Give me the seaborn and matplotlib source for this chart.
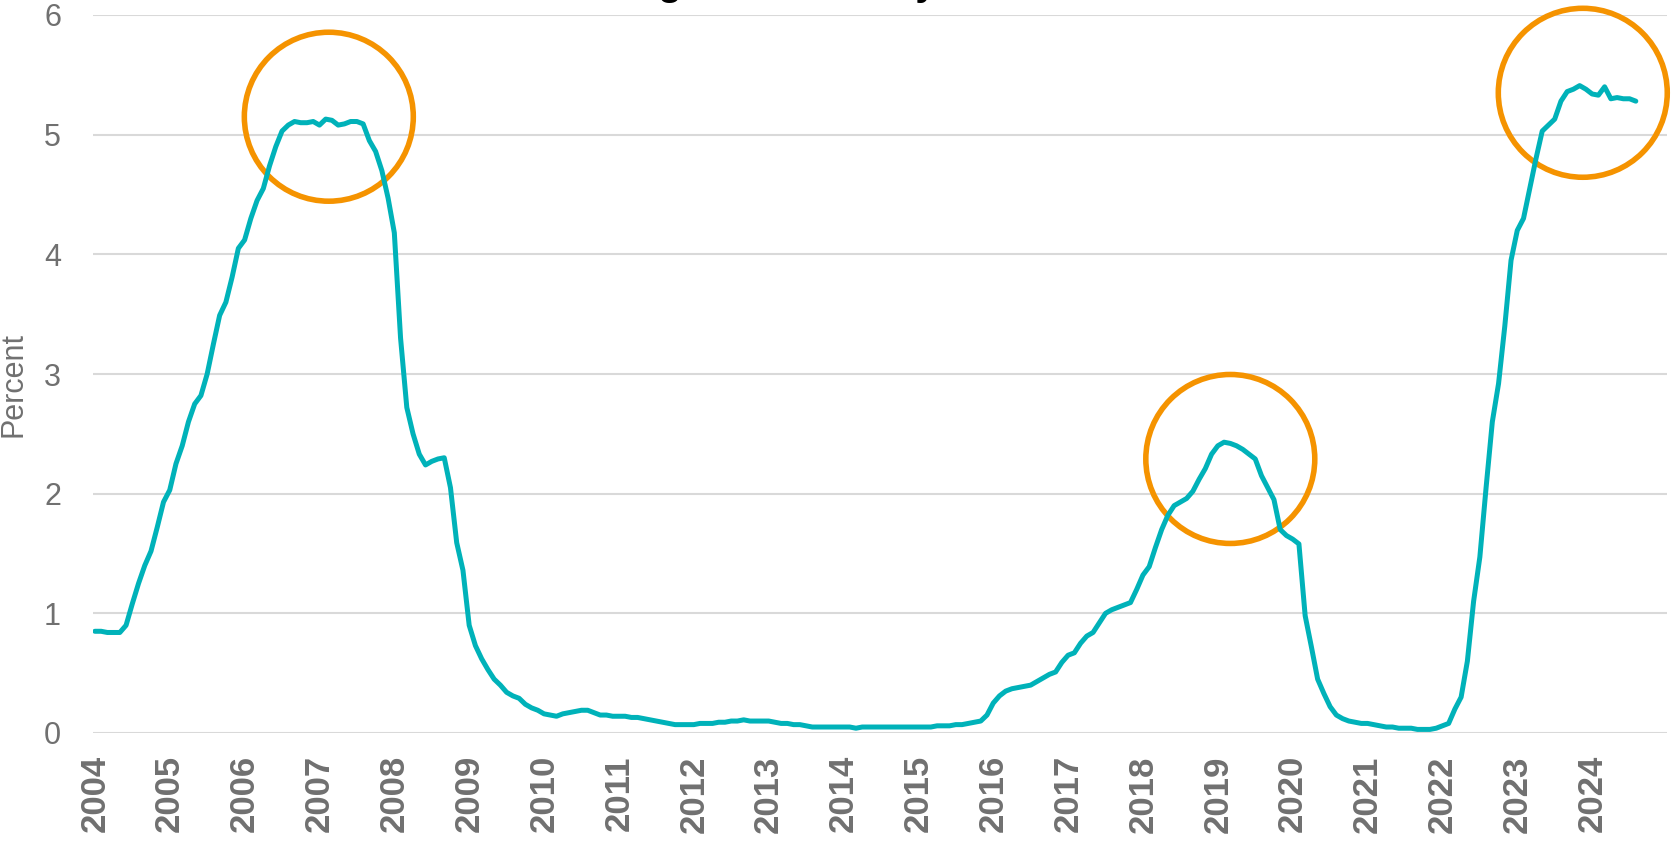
import numpy as np
import pandas as pd
import seaborn as sns
import matplotlib
matplotlib.use('Agg')
import matplotlib.pyplot as plt

################################################################################
# data (monthly, Jan 2004 - Aug 2024)

years = [str(y) for y in range(2004, 2025)]

rate_2004 = [0.85, 0.85, 0.84, 0.84, 0.84, 0.90, 1.08, 1.25, 1.40, 1.52, 1.72, 1.93]
rate_2005 = [2.03, 2.25, 2.40, 2.60, 2.75, 2.82, 3.00, 3.25, 3.49, 3.60, 3.81, 4.05]
rate_2006 = [4.12, 4.30, 4.45, 4.55, 4.74, 4.90, 5.03, 5.08, 5.11, 5.10, 5.10, 5.11]
rate_2007 = [5.08, 5.13, 5.12, 5.08, 5.09, 5.11, 5.11, 5.09, 4.95, 4.86, 4.70, 4.47]
rate_2008 = [4.18, 3.30, 2.72, 2.50, 2.33, 2.24, 2.27, 2.29, 2.30, 2.05, 1.59, 1.36]
rate_2009 = [0.90, 0.73, 0.62, 0.53, 0.45, 0.40, 0.34, 0.31, 0.29, 0.24, 0.21, 0.19]
rate_2010 = [0.16, 0.15, 0.14, 0.16, 0.17, 0.18, 0.19, 0.19, 0.17, 0.15, 0.15, 0.14]
rate_2011 = [0.14, 0.14, 0.13, 0.13, 0.12, 0.11, 0.10, 0.09, 0.08, 0.07, 0.07, 0.07]
rate_2012 = [0.07, 0.08, 0.08, 0.08, 0.09, 0.09, 0.10, 0.10, 0.11, 0.10, 0.10, 0.10]
rate_2013 = [0.10, 0.09, 0.08, 0.08, 0.07, 0.07, 0.06, 0.05, 0.05, 0.05, 0.05, 0.05]
rate_2014 = [0.05, 0.05, 0.04, 0.05, 0.05, 0.05, 0.05, 0.05, 0.05, 0.05, 0.05, 0.05]
rate_2015 = [0.05, 0.05, 0.05, 0.06, 0.06, 0.06, 0.07, 0.07, 0.08, 0.09, 0.10, 0.15]
rate_2016 = [0.25, 0.31, 0.35, 0.37, 0.38, 0.39, 0.40, 0.43, 0.46, 0.49, 0.51, 0.59]
rate_2017 = [0.65, 0.67, 0.75, 0.81, 0.84, 0.92, 1.00, 1.03, 1.05, 1.07, 1.09, 1.20]
rate_2018 = [1.32, 1.39, 1.55, 1.70, 1.82, 1.90, 1.93, 1.96, 2.02, 2.12, 2.21, 2.33]
rate_2019 = [2.40, 2.43, 2.42, 2.40, 2.37, 2.33, 2.29, 2.15, 2.05, 1.95, 1.70, 1.65]
rate_2020 = [1.62, 1.58, 0.98, 0.72, 0.45, 0.33, 0.22, 0.15, 0.12, 0.10, 0.09, 0.08]
rate_2021 = [0.08, 0.07, 0.06, 0.05, 0.05, 0.04, 0.04, 0.04, 0.03, 0.03, 0.03, 0.04]
rate_2022 = [0.06, 0.08, 0.20, 0.30, 0.60, 1.10, 1.47, 2.05, 2.60, 2.92, 3.40, 3.95]
rate_2023 = [4.20, 4.30, 4.55, 4.80, 5.03, 5.08, 5.13, 5.28, 5.36, 5.38, 5.41, 5.38]
rate_2024 = [5.34, 5.33, 5.40, 5.30, 5.31, 5.30, 5.30, 5.28]

rate = (rate_2004 + rate_2005 + rate_2006 + rate_2007 + rate_2008 + rate_2009
        + rate_2010 + rate_2011 + rate_2012 + rate_2013 + rate_2014 + rate_2015
        + rate_2016 + rate_2017 + rate_2018 + rate_2019 + rate_2020 + rate_2021
        + rate_2022 + rate_2023 + rate_2024)

# the three peaks that get an orange ring (month index, percent)
peak_month = [37.5, 182.0, 238.5]
peak_value = [5.15, 2.29, 5.35]

################################################################################
# style

teal = '#00B2B9'
orange = '#F59300'
grey = '#707070'

sns.set_style('white')
plt.rcParams['font.family'] = ['Liberation Sans', 'DejaVu Sans']

df = pd.DataFrame({'month': np.arange(len(rate)), 'rate': rate})

fig = plt.figure(figsize=(16.73, 8.43), dpi=100)
ax = fig.add_axes([93/1673, 110/843, 1574/1673, 718/843])

sns.lineplot(data=df, x='month', y='rate', color=teal, linewidth=3.6, ax=ax)

pts = sns.scatterplot(x=peak_month, y=peak_value, marker='o', s=14800, ax=ax)
rings = pts.collections[-1]
rings.set_facecolor('none')
rings.set_edgecolor(orange)
rings.set_linewidth(4.0)
rings.set_clip_on(False)

ax.set_xlim(-0.3, 252)
ax.set_ylim(0, 6)
ax.set_yticks(range(0, 7))
ax.set_xticks(range(0, 241, 12))
ax.set_xticklabels(years, rotation=90, fontsize=25, fontweight='bold', color=grey)
ax.tick_params(axis='x', length=0, pad=16)
ax.tick_params(axis='y', length=0, pad=23, labelsize=22, labelcolor=grey)

ax.grid(axis='y', color='#d9d9d9', linewidth=1.5)
ax.set_axisbelow(True)
sns.despine(ax=ax, left=True, bottom=True)

ax.set_xlabel('')
ax.set_ylabel('Percent', fontsize=22, color=grey)
ax.yaxis.set_label_coords(-0.0407, 0.486)

# title sits above the top edge, only its descenders show
fig.text(0.095, 1 + 5/843, 'Cash rates reached their highest level in years',
         fontsize=28, fontweight='bold', color='black', va='baseline', ha='left')

fig.savefig('out.png', dpi=100)
